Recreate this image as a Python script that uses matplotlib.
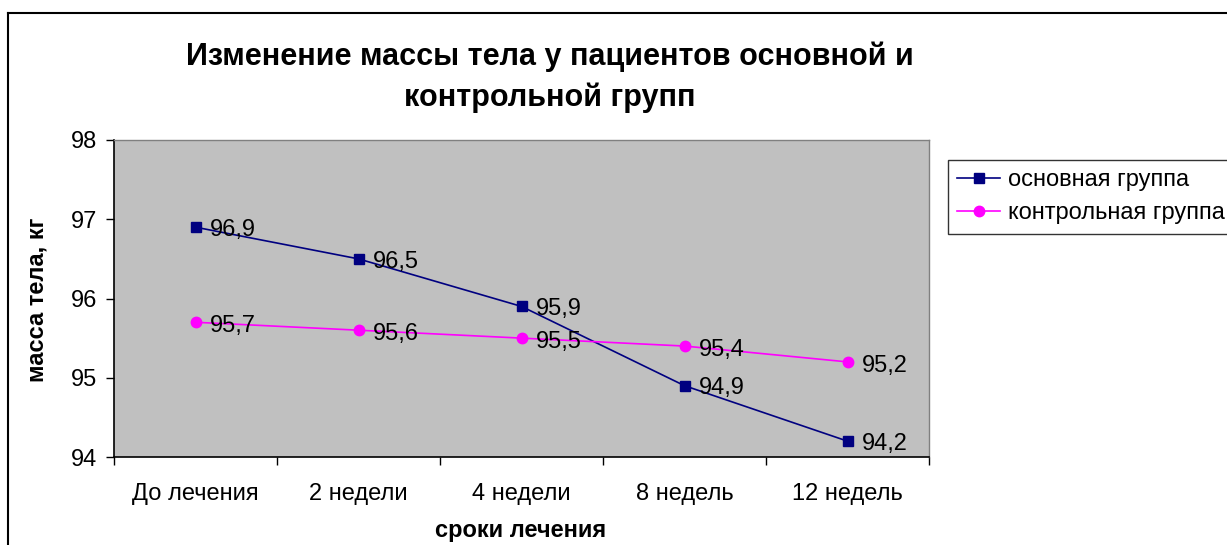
import matplotlib
matplotlib.use("Agg")
import matplotlib.pyplot as plt
from matplotlib.lines import Line2D

plt.rcParams['font.family'] = ['Liberation Sans', 'DejaVu Sans']

categories = ["До лечения", "2 недели", "4 недели", "8 недель", "12 недель"]
main_group = [96.9, 96.5, 95.9, 94.9, 94.2]
control_group = [95.7, 95.6, 95.5, 95.4, 95.2]
main_labels = ["96,9", "96,5", "95,9", "94,9", "94,2"]
control_labels = ["95,7", "95,6", "95,5", "95,4", "95,2"]
yticks = [94, 95, 96, 97, 98]

W, H = 1227, 545
FS = 17
fig = plt.figure(figsize=(W/100, H/100), dpi=100)
ax = fig.add_axes([114/W, 1-457/H, (929-114)/W, (457-140)/H])
ax.set_facecolor('#c0c0c0')

x = list(range(len(categories)))
ax.plot(x, main_group, color='#000080', lw=1.2, marker='s', ms=7.5,
        markerfacecolor='#000080', markeredgecolor='#000080', label='основная группа', zorder=3)
ax.plot(x, control_group, color='#ff00ff', lw=1.2, marker='o', ms=7.5,
        markerfacecolor='#ff00ff', markeredgecolor='#ff00ff', label='контрольная группа', zorder=3)

for xi, v, t in zip(x, main_group, main_labels):
    ax.annotate(t, (xi, v), xytext=(10, -2), textcoords='offset points',
                ha='left', va='center', fontsize=FS, color='black')
for xi, v, t in zip(x, control_group, control_labels):
    ax.annotate(t, (xi, v), xytext=(10, -3), textcoords='offset points',
                ha='left', va='center', fontsize=FS, color='black')

ax.set_xlim(-0.5, 4.5)
ax.set_ylim(94, 98)
ax.set_yticks(yticks)
ax.set_yticklabels([str(v) for v in yticks], fontsize=FS)
ax.set_xticks(x)
ax.set_xticklabels(categories, fontsize=FS)
ax.set_xticks([i - 0.5 for i in range(len(categories) + 1)], minor=True)
ax.tick_params(axis='x', which='major', length=0, pad=19)
ax.tick_params(axis='x', which='minor', length=6, direction='out', width=1)
ax.tick_params(axis='y', length=6, direction='out', width=1, pad=6)

for s in ['top', 'right']:
    ax.spines[s].set_color('#808080')
    ax.spines[s].set_linewidth(1)
for s in ['left', 'bottom']:
    ax.spines[s].set_color('black')
    ax.spines[s].set_linewidth(1.2)

fig.text(521/W, 1-530/H, 'сроки лечения', ha='center', va='center',
         fontsize=FS, fontweight='bold')
fig.text(37/W, 1-300/H, 'масса тела, кг', ha='center', va='center', rotation=90,
         fontsize=FS, fontweight='bold')

fig.text(550/W, 1-77/H, 'Изменение массы тела у пациентов основной и\nконтрольной групп',
         ha='center', va='center', fontsize=22, fontweight='bold', linespacing=1.45)

leg = ax.legend(loc='upper left', bbox_to_anchor=(948/W, 1-160/H), bbox_transform=fig.transFigure,
                fontsize=FS, frameon=True, fancybox=False, edgecolor='black',
                borderpad=0.4, handlelength=1.8, labelspacing=0.45, handletextpad=0.35,
                borderaxespad=0)
leg.get_frame().set_linewidth(1)

fig.add_artist(Line2D([8/W, 8/W], [0, 1-13/H], transform=fig.transFigure, color='black', lw=1.5))
fig.add_artist(Line2D([8/W, 1], [1-13/H, 1-13/H], transform=fig.transFigure, color='black', lw=1.5))

fig.savefig('out.png', dpi=100)
